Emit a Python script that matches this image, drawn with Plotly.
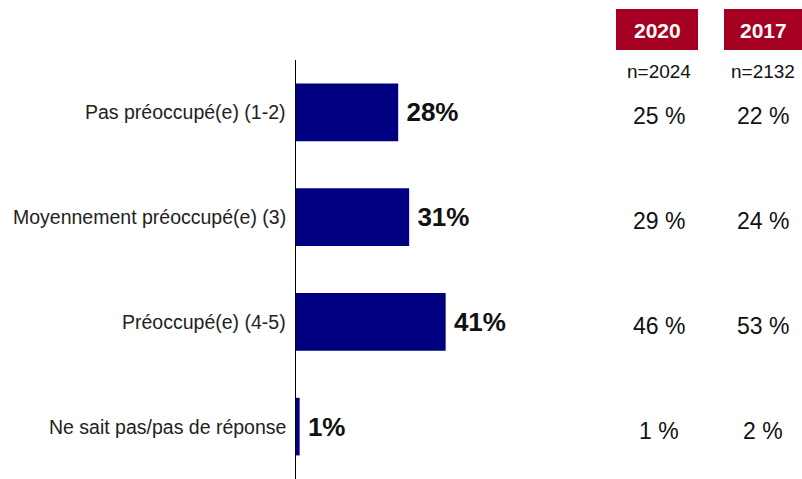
import plotly.graph_objects as go

categories = ["Pas préoccupé(e) (1-2)", "Moyennement préoccupé(e) (3)",
              "Préoccupé(e) (4-5)", "Ne sait pas/pas de réponse"]
values_2023 = [28, 31, 41, 1]
col_years = ["2020", "2017"]
col_n = ["n=2024", "n=2132"]
values_2020 = [25, 29, 46, 1]
values_2017 = [22, 24, 53, 2]

W, H = 802, 479
ML, MR, MT, MB = 296, 0, 60, 0
PW, PH = W - ML - MR, H - MT - MB

def px(x):
    return (x - ML) / PW

def py(y):
    return (H - MB - y) / PH

NAVY = "#000080"
RED = "#A50021"
FONT = "Liberation Sans, Arial, Helvetica, sans-serif"

fig = go.Figure()
fig.add_trace(go.Bar(
    x=values_2023, y=categories, orientation="h",
    marker=dict(color=NAVY, line=dict(width=0)),
    width=0.55,
    text=[f"\u2009<b>{v}%</b>" for v in values_2023],
    textposition="outside",
    textfont=dict(family=FONT, size=26, color="#111111"),
    cliponaxis=False,
    hoverinfo="skip",
))

annotations = []
shapes = []
# category labels
for c in categories:
    annotations.append(dict(x=0, y=c, xref="paper", yref="y", text=c,
                            xanchor="right", yanchor="middle", xshift=-8, showarrow=False,
                            font=dict(family=FONT, size=19.5, color="#222222")))
# table columns
col_centers = [659, 763]
col_boxes = [(616, 698), (724, 803)]
for i, (yr, n, vals) in enumerate(zip(col_years, col_n, [values_2020, values_2017])):
    x0, x1 = col_boxes[i]
    shapes.append(dict(type="rect", xref="paper", yref="paper",
                       x0=px(x0), x1=px(x1), y0=py(50), y1=py(9),
                       fillcolor=RED, line=dict(width=0), layer="above"))
    annotations.append(dict(x=px((x0 + x1) / 2), y=py(30), xref="paper", yref="paper",
                            text=f"<b>{yr}</b>", showarrow=False, xanchor="center", yanchor="middle",
                            font=dict(family=FONT, size=21, color="white")))
    annotations.append(dict(x=px(col_centers[i]), y=py(71), xref="paper", yref="paper",
                            text=n, showarrow=False, xanchor="center", yanchor="middle",
                            font=dict(family=FONT, size=19, color="#111111")))
    for c, v in zip(categories, vals):
        annotations.append(dict(x=px(col_centers[i]), y=c, xref="paper", yref="y",
                                text=f"{v} %", showarrow=False, xanchor="center", yanchor="middle",
                                yshift=-4,
                                font=dict(family=FONT, size=23, color="#111111")))

fig.update_layout(
    width=W, height=H,
    margin=dict(l=ML, r=MR, t=MT, b=MB),
    plot_bgcolor="white", paper_bgcolor="white",
    showlegend=False,
    xaxis=dict(range=[0, PW / 3.65], showgrid=False, zeroline=False, showticklabels=False,
               showline=False, fixedrange=True),
    yaxis=dict(categoryorder="array", categoryarray=categories[::-1],
               showticklabels=False, showgrid=False, zeroline=False,
               showline=True, linecolor="black", linewidth=1, fixedrange=True),
    annotations=annotations, shapes=shapes,
)

fig.write_html("out.html", config={"displayModeBar": False},
               post_script="document.body.style.margin='0';document.body.style.overflow='hidden';")
